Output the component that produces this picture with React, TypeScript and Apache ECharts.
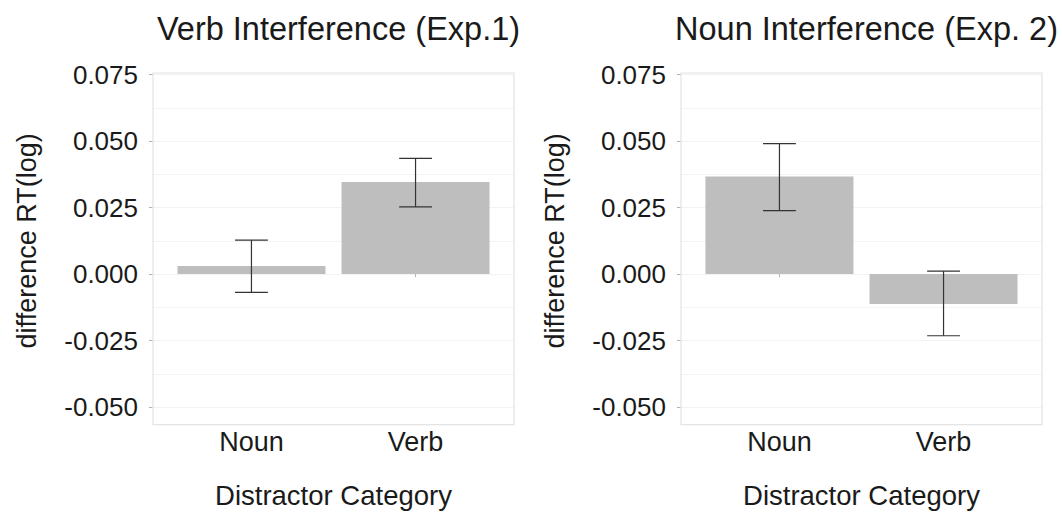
import React, { useEffect, useRef } from "react";
import * as echarts from "echarts";

const categories = ["Noun", "Verb"];
const categoryPositions = [1, 2];
const panelTitles = ["Verb Interference (Exp.1)", "Noun Interference (Exp. 2)"];
const exp1Means = [0.003, 0.0346];
const exp1Lower = [-0.0069, 0.0253];
const exp1Upper = [0.0128, 0.0435];
const exp2Means = [0.0367, -0.0113];
const exp2Lower = [0.0239, -0.0232];
const exp2Upper = [0.0491, 0.0011];
const xAxisTitle = "Distractor Category";
const yAxisTitle = "difference RT(log)";

const FONT = "'Liberation Sans', Arial, Helvetica, sans-serif";
const TEXT = "#1a1a1a";

// panel layout (pixels)
const panels = [
  { left: 153, right: 514 },
  { left: 681, right: 1042 },
];
const gridTop = 74.7;
const gridBottomY = 409.7;
const panelTop = 73;
const panelBottom = 424.7;

export default function App() {
  const ref = useRef<HTMLDivElement>(null);
  useEffect(() => {
    if (!ref.current) return;
    const chart = echarts.init(ref.current, undefined, { renderer: "svg" });
    const means = [exp1Means, exp2Means];
    const lowers = [exp1Lower, exp2Lower];
    const uppers = [exp1Upper, exp2Upper];

    const grids = panels.map((p) => ({
      left: p.left,
      width: p.right - p.left,
      top: gridTop,
      height: gridBottomY - gridTop,
      containLabel: false,
    }));

    const xAxes = panels.map((_, i) => ({
      type: "value",
      gridIndex: i,
      min: 0.4,
      max: 2.6,
      offset: panelBottom - gridBottomY,
      axisLine: { show: false },
      axisTick: {
        show: true,
        length: 3,
        customValues: categoryPositions,
        lineStyle: { color: "#b3b3b3", width: 1 },
      },
      axisLabel: {
        customValues: categoryPositions,
        formatter: (v: number) => categories[categoryPositions.indexOf(v)] ?? "",
        color: TEXT,
        fontSize: 27,
        fontFamily: FONT,
        margin: 6,
      },
      splitLine: { show: false },
      name: xAxisTitle,
      nameLocation: "middle",
      nameGap: 59,
      nameTextStyle: { color: TEXT, fontSize: 27.5, fontFamily: FONT },
    }));

    const yAxes = panels.map((_, i) => ({
      type: "value",
      gridIndex: i,
      min: -0.05,
      max: 0.075,
      interval: 0.025,
      axisLine: { show: false },
      axisTick: { show: true, length: 4, lineStyle: { color: "#b3b3b3", width: 1 } },
      axisLabel: {
        formatter: (v: number) => v.toFixed(3),
        color: TEXT,
        fontSize: 26,
        fontFamily: FONT,
        margin: 15,
      },
      splitLine: { show: true, lineStyle: { color: "#f3f3f3", width: 1 } },
      minorTick: { show: false, splitNumber: 2 },
      minorSplitLine: { show: true, lineStyle: { color: "#f3f3f3", width: 1 } },
      name: yAxisTitle,
      nameLocation: "middle",
      nameGap: 113,
      nameTextStyle: { color: TEXT, fontSize: 27, fontFamily: FONT },
    }));

    const series: any[] = [];
    panels.forEach((_, i) => {
      series.push({
        type: "bar",
        xAxisIndex: i,
        yAxisIndex: i,
        barWidth: 148,
        itemStyle: { color: "#bebebe" },
        data: categoryPositions.map((x, k) => [x, means[i][k]]),
        z: 2,
      });
      series.push({
        type: "custom",
        xAxisIndex: i,
        yAxisIndex: i,
        z: 3,
        encode: { x: 0, y: [1, 2] },
        data: categoryPositions.map((x, k) => [x, lowers[i][k], uppers[i][k]]),
        renderItem: (params: any, api: any) => {
          const x = api.value(0);
          const lo = api.coord([x, api.value(1)]);
          const hi = api.coord([x, api.value(2)]);
          const half = api.size([0.2, 0])[0] / 2;
          const style = { stroke: "#333333", lineWidth: 1.2 };
          return {
            type: "group",
            children: [
              { type: "line", shape: { x1: lo[0], y1: lo[1], x2: hi[0], y2: hi[1] }, style },
              { type: "line", shape: { x1: hi[0] - half, y1: hi[1], x2: hi[0] + half, y2: hi[1] }, style },
              { type: "line", shape: { x1: lo[0] - half, y1: lo[1], x2: lo[0] + half, y2: lo[1] }, style },
            ],
          };
        },
      });
    });

    chart.setOption({
      animation: false,
      backgroundColor: "#ffffff",
      title: panels.map((p, i) => ({
        text: panelTitles[i],
        left: (p.left + p.right) / 2,
        top: 7,
        textAlign: "center",
        textStyle: { color: TEXT, fontSize: 32.5, fontWeight: "normal", fontFamily: FONT },
      })),
      grid: grids,
      xAxis: xAxes,
      yAxis: yAxes,
      series,
      graphic: panels.map((p) => ({
        type: "rect",
        silent: true,
        z: 10,
        shape: { x: p.left, y: panelTop, width: p.right - p.left, height: panelBottom - panelTop },
        style: { fill: "none", stroke: "#e3e3e3", lineWidth: 1.2 },
      })),
    });
    return () => chart.dispose();
  }, []);
  return (
    <div
      ref={ref}
      style={{ position: "absolute", left: 0, top: 0, width: 1062, height: 514, background: "#fff" }}
    />
  );
}
